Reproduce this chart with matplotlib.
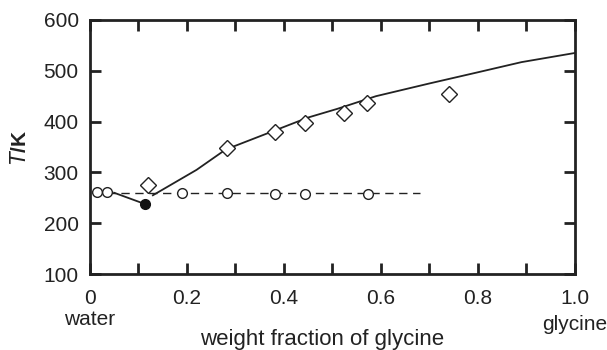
import matplotlib
matplotlib.use('Agg')
import matplotlib.pyplot as plt

plt.rcParams['font.family'] = ['Liberation Sans', 'DejaVu Sans']

# solubility (diamonds) and freezing points (open circles)
sol_x = [0.12, 0.282, 0.381, 0.443, 0.524, 0.571, 0.740]
sol_T = [275, 348, 380, 397, 417, 437, 454]
frz_x = [0.014, 0.035, 0.19, 0.282, 0.381, 0.443, 0.574]
frz_T = [262, 262, 259, 259, 258, 258, 258]

# eutectic point
eut_x = [0.113]
eut_T = [238]

# liquidus curves
ice_x = [0.05, 0.113]
ice_T = [260, 238]
gly_x = [0.13, 0.22, 0.28, 0.38, 0.45, 0.51, 0.59, 0.70, 0.80, 0.89, 1.0]
gly_T = [255, 305, 345, 382, 408, 425, 450, 475, 497, 517, 535]

# glass line
dash_x = [0.035, 0.68]
dash_T = [260, 260]

fig = plt.figure(figsize=(6.07, 3.5), dpi=100)
ax = fig.add_axes([0.148, 0.217, 0.799, 0.726])

ax.plot(gly_x, gly_T, color='#222222', lw=1.3)
ax.plot(ice_x, ice_T, color='#222222', lw=1.3)
ax.plot(dash_x, dash_T, color='#222222', lw=1.0, ls=(0, (6, 4)))
ax.plot(sol_x, sol_T, ls='none', marker='D', ms=8, mfc='white', mec='#222222', mew=1.0)
ax.plot(frz_x, frz_T, ls='none', marker='o', ms=7, mfc='white', mec='#222222', mew=1.0)
ax.plot(eut_x, eut_T, ls='none', marker='o', ms=7, mfc='#111111', mec='#111111')

ax.set_xlim(0, 1.0)
ax.set_ylim(100, 600)
ax.set_xticks([i / 10 for i in range(11)])
ax.set_xticklabels(['0', '', '0.2', '', '0.4', '', '0.6', '', '0.8', '', '1.0'])
ax.set_yticks([100, 200, 300, 400, 500, 600])
ax.tick_params(direction='in', length=8, width=2, top=True, right=True,
               labelsize=15, colors='#222222')
ax.tick_params(axis='x', pad=11)
ax.tick_params(axis='y', pad=8)
for s in ax.spines.values():
    s.set_linewidth(2)
    s.set_color('#222222')

ax.set_ylabel(r'$\it{T}$/K', fontsize=15, fontweight='bold', labelpad=10, color='#222222')
fig.text(0.53, 0.03, 'weight fraction of glycine', ha='center', va='center',
         fontsize=16, color='#222222')
ax.text(0.0, -0.18, 'water', transform=ax.transAxes, ha='center', va='center',
        fontsize=15, color='#222222')
ax.text(1.0, -0.2, 'glycine', transform=ax.transAxes, ha='center', va='center',
        fontsize=15, color='#222222')

fig.savefig('out.png', dpi=100)
